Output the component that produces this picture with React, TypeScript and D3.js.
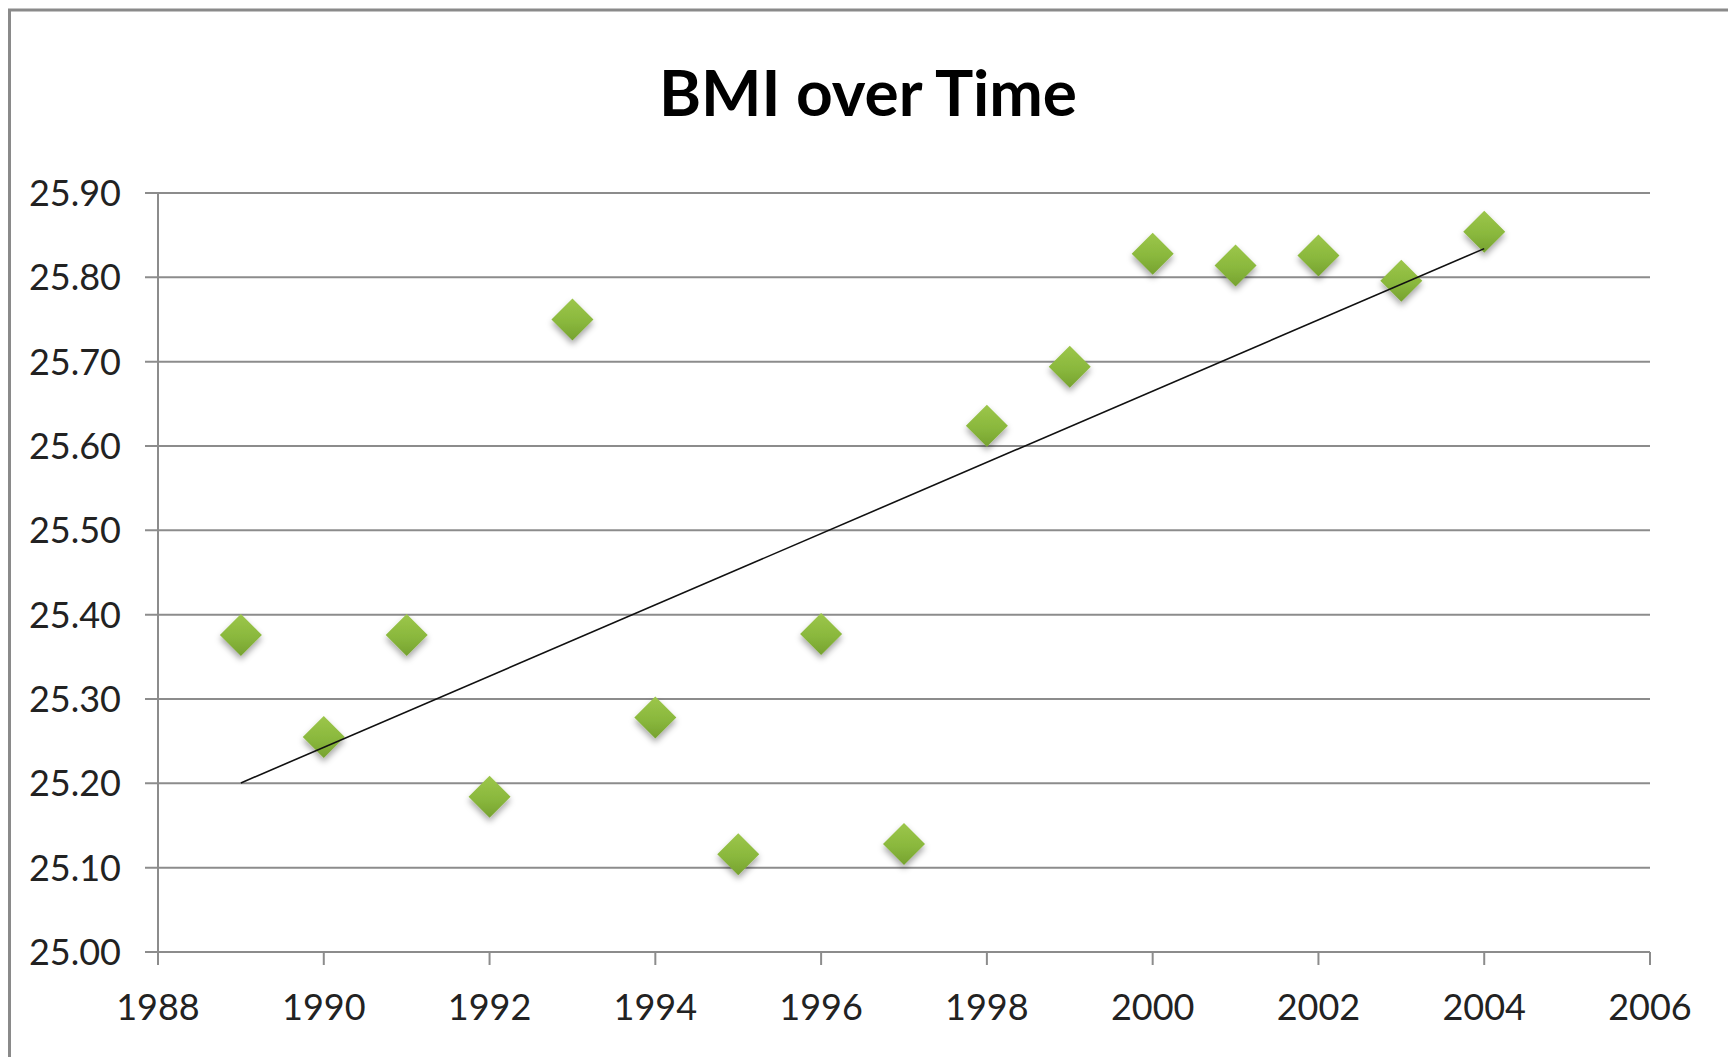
import React, { useEffect, useRef } from "react";
import * as d3 from "d3";

const years = [1989, 1990, 1991, 1992, 1993, 1994, 1995, 1996, 1997, 1998, 1999, 2000, 2001, 2002, 2003, 2004];
const bmi = [25.376, 25.255, 25.376, 25.184, 25.75, 25.278, 25.116, 25.377, 25.128, 25.624, 25.694, 25.828, 25.814, 25.826, 25.796, 25.854];
const xTicks = [1988, 1990, 1992, 1994, 1996, 1998, 2000, 2002, 2004, 2006];
const yTicks = [25.0, 25.1, 25.2, 25.3, 25.4, 25.5, 25.6, 25.7, 25.8, 25.9];
const title = "BMI over Time";

const W = 1728;
const H = 1057;
const FONT = "Lato, 'Open Sans', sans-serif";

export default function App() {
  const ref = useRef<SVGSVGElement>(null);

  useEffect(() => {
    const svg = d3.select(ref.current);
    svg.selectAll("*").remove();

    const x = d3.scaleLinear().domain([1988, 2006]).range([158, 1650]);
    const y = d3.scaleLinear().domain([25.0, 25.9]).range([952, 193]);

    const defs = svg.append("defs");
    const grad = defs.append("linearGradient").attr("id", "g").attr("x1", 0).attr("y1", 0).attr("x2", 0).attr("y2", 1);
    grad.append("stop").attr("offset", "0%").attr("stop-color", "#9cc64a");
    grad.append("stop").attr("offset", "55%").attr("stop-color", "#8ab83d");
    grad.append("stop").attr("offset", "100%").attr("stop-color", "#76a230");
    const f = defs.append("filter").attr("id", "sh").attr("x", "-50%").attr("y", "-50%").attr("width", "200%").attr("height", "200%");
    f.append("feDropShadow").attr("dx", 0).attr("dy", 4).attr("stdDeviation", 3).attr("flood-color", "#000").attr("flood-opacity", 0.35);

    // outer border
    svg.append("rect").attr("x", 9.5).attr("y", 10).attr("width", W + 20).attr("height", H + 20)
      .attr("fill", "white").attr("stroke", "#8a8a8a").attr("stroke-width", 3);

    // title
    svg.append("text").attr("x", 868).attr("y", 116).attr("text-anchor", "middle")
      .attr("font-family", FONT).attr("font-weight", 700).attr("font-size", 64).attr("fill", "#000")
      .text(title);

    // gridlines
    svg.append("g").selectAll("line").data(yTicks).join("line")
      .attr("x1", x(1988) - 13).attr("x2", x(2006))
      .attr("y1", (d) => y(d)).attr("y2", (d) => y(d))
      .attr("stroke", "#8c8c8c").attr("stroke-width", 2);

    // y axis line
    svg.append("line").attr("x1", x(1988)).attr("x2", x(1988)).attr("y1", y(25.9)).attr("y2", y(25.0) + 13)
      .attr("stroke", "#8c8c8c").attr("stroke-width", 2);

    // x ticks
    svg.append("g").selectAll("line").data(xTicks).join("line")
      .attr("x1", (d) => x(d)).attr("x2", (d) => x(d))
      .attr("y1", y(25.0)).attr("y2", y(25.0) + 13)
      .attr("stroke", "#8c8c8c").attr("stroke-width", 2);

    // y labels
    svg.append("g").selectAll("text").data(yTicks).join("text")
      .attr("x", 121).attr("y", (d) => y(d)).attr("dy", "0.36em").attr("text-anchor", "end")
      .attr("font-family", FONT).attr("font-size", 36).attr("fill", "#222")
      .text((d) => d3.format(".2f")(d));

    // x labels
    svg.append("g").selectAll("text").data(xTicks).join("text")
      .attr("x", (d) => x(d)).attr("y", 1020).attr("text-anchor", "middle")
      .attr("font-family", FONT).attr("font-size", 36).attr("fill", "#222")
      .text((d) => String(d));

    // markers
    const r = 21;
    svg.append("g").selectAll("path").data(years).join("path")
      .attr("d", (d, i) => {
        const cx = x(d), cy = y(bmi[i]);
        return `M${cx},${cy - r}L${cx + r},${cy}L${cx},${cy + r}L${cx - r},${cy}Z`;
      })
      .attr("fill", "url(#g)").attr("filter", "url(#sh)");

    // linear trend line
    const mx = d3.mean(years)!;
    const my = d3.mean(bmi)!;
    const slope = d3.sum(years, (d, i) => (d - mx) * (bmi[i] - my)) / d3.sum(years, (d) => (d - mx) ** 2);
    const x0 = years[0], x1 = years[years.length - 1];
    const line = d3.line<number>().x((d) => x(d)).y((d) => y(my + slope * (d - mx)));
    svg.append("path").attr("d", line([x0, x1])).attr("fill", "none").attr("stroke", "#111").attr("stroke-width", 1.6);
  }, []);

  return (
    <svg ref={ref} width={W} height={H} style={{ position: "absolute", left: 0, top: 0, background: "white" }} />
  );
}
